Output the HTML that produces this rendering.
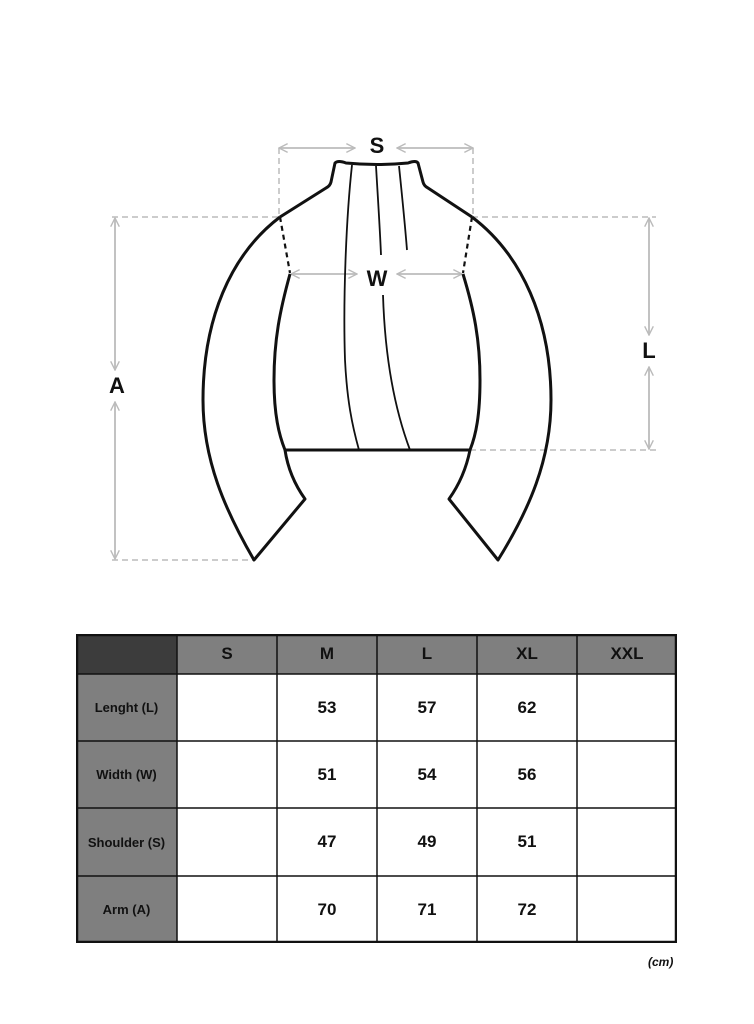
<!DOCTYPE html>
<html><head><meta charset="utf-8"><style>
html,body{margin:0;padding:0;background:#fff;width:754px;height:1024px;overflow:hidden;font-family:"Liberation Sans",Arial,sans-serif}
.t{position:absolute;left:76px;top:634px;width:601px;height:309px}
.c{position:absolute;box-sizing:border-box;display:flex;align-items:center;justify-content:center;font-weight:bold;color:#111}
</style></head><body>
<svg width="754" height="1024" style="position:absolute;left:0;top:0">
<defs><marker id="ar" viewBox="0 0 10 10" refX="9" refY="5" markerWidth="6" markerHeight="6" orient="auto-start-reverse"><path d="M1 1 L9 5 L1 9" fill="none" stroke="#bbb" stroke-width="1.3"/></marker></defs>
<g stroke="#bbb" stroke-width="1.5" fill="none" stroke-dasharray="6 4">
<path d="M279 148 V217 M473 148 V217"/>
<path d="M112 217 H280 M112 560 H254"/>
<path d="M472 217 H656 M470 450 H656"/>
</g>
<g stroke="#bbb" stroke-width="1.8" fill="none" marker-start="url(#ar)" marker-end="url(#ar)">
<path d="M279 148 H355"/><path d="M397 148 H473" />
<path d="M291 274 H357"/><path d="M397 274 H462"/>
<path d="M115 218 V370"/><path d="M115 402 V559"/>
<path d="M649 218 V335"/><path d="M649 367 V449"/>
</g>
<g font-family="Liberation Sans,Arial,sans-serif" font-weight="bold" font-size="22" fill="#111" text-anchor="middle">
<text x="377" y="153">S</text><text x="377" y="286">W</text><text x="117" y="393">A</text><text x="649" y="358">L</text>
</g>
<g stroke="#111" stroke-width="3" fill="none" stroke-linejoin="round">
<path d="M280 217 L326 188 Q330 186 331 182 L335 163 Q338 160 346 163 Q377 166 408 163 Q416 160 418 163 L423 182 Q424 186 428 188 L472 217"/>
<path d="M280 217 C230 255 203 320 203 400 C203 460 225 510 254 560 L305 499 C295 485 288 470 285 450"/>
<path d="M472 217 C522 255 551 320 551 400 C551 460 529 510 498 560 L449 499 C459 485 466 470 470 450"/>
<path d="M290 274 C280 310 274 340 274 380 C274 415 279 435 285 450 H470 C476 435 480 415 480 380 C480 340 474 310 463 274"/>
</g>
<g stroke="#111" stroke-width="2.2" fill="none" stroke-dasharray="5 4">
<path d="M280 217 L290 273"/><path d="M472 217 L463 273"/>
</g>
<g stroke="#111" stroke-width="1.8" fill="none">
<path d="M352 165 C346 220 343 300 345 360 C347 400 352 425 359 450"/>
<path d="M376 166 C378 200 380 230 381 255"/>
<path d="M383 295 C385 360 395 410 410 450"/>
<path d="M399 166 C402 195 405 225 407 250"/>
</g>
</svg>
<div class="t">
<div class="c" style="left:0;top:0;width:101px;height:40px;background:#3c3c3c"></div>
<div class="c" style="left:101px;top:0;width:500px;height:40px;background:#7f7f7f"></div>
<div class="c" style="left:0;top:40px;width:101px;height:269px;background:#7f7f7f"></div>
<div class="c" style="left:101px;top:0;width:100px;height:40px;font-size:17px">S</div>
<div class="c" style="left:201px;top:0;width:100px;height:40px;font-size:17px">M</div>
<div class="c" style="left:301px;top:0;width:100px;height:40px;font-size:17px">L</div>
<div class="c" style="left:401px;top:0;width:100px;height:40px;font-size:17px">XL</div>
<div class="c" style="left:501px;top:0;width:100px;height:40px;font-size:17px">XXL</div>
<div class="c" style="left:0;top:40px;width:101px;height:67px;font-size:13px">Lenght (L)</div>
<div class="c" style="left:0;top:107px;width:101px;height:67px;font-size:13px">Width (W)</div>
<div class="c" style="left:0;top:174px;width:101px;height:68px;font-size:13px">Shoulder (S)</div>
<div class="c" style="left:0;top:242px;width:101px;height:67px;font-size:13px">Arm (A)</div>
<div class="c" style="left:201px;top:40px;width:100px;height:67px;font-size:17px">53</div>
<div class="c" style="left:301px;top:40px;width:100px;height:67px;font-size:17px">57</div>
<div class="c" style="left:401px;top:40px;width:100px;height:67px;font-size:17px">62</div>
<div class="c" style="left:201px;top:107px;width:100px;height:67px;font-size:17px">51</div>
<div class="c" style="left:301px;top:107px;width:100px;height:67px;font-size:17px">54</div>
<div class="c" style="left:401px;top:107px;width:100px;height:67px;font-size:17px">56</div>
<div class="c" style="left:201px;top:174px;width:100px;height:68px;font-size:17px">47</div>
<div class="c" style="left:301px;top:174px;width:100px;height:68px;font-size:17px">49</div>
<div class="c" style="left:401px;top:174px;width:100px;height:68px;font-size:17px">51</div>
<div class="c" style="left:201px;top:242px;width:100px;height:67px;font-size:17px">70</div>
<div class="c" style="left:301px;top:242px;width:100px;height:67px;font-size:17px">71</div>
<div class="c" style="left:401px;top:242px;width:100px;height:67px;font-size:17px">72</div>
<svg width="601" height="309" style="position:absolute;left:0;top:0">
<g stroke="#111" fill="none">
<rect x="1" y="1" width="599" height="307" stroke-width="2.5"/>
<path d="M101 0V309M201 0V309M301 0V309M401 0V309M501 0V309" stroke-width="1.5"/>
<path d="M0 40H601M0 107H601M0 174H601M0 242H601" stroke-width="1.5"/>
</g></svg>
</div>
<div style="position:absolute;left:648px;top:955px;font-size:12px;font-weight:bold;font-style:italic;color:#111">(cm)</div>
</body></html>
